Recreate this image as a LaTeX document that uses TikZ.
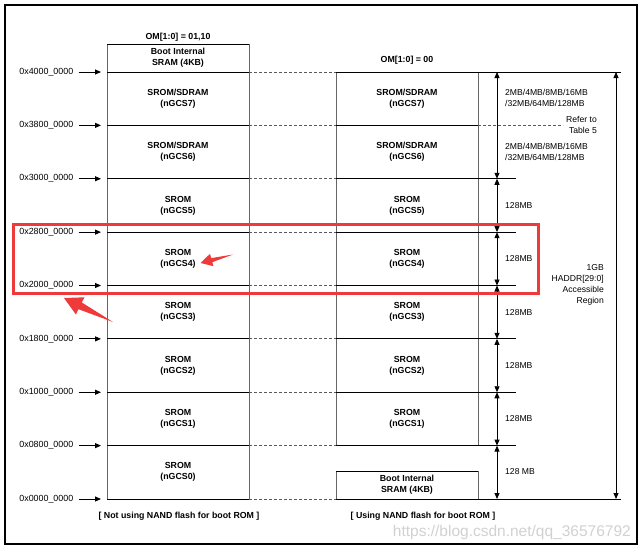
\documentclass[tikz,border=0pt]{standalone}
\usepackage{fontspec}
\setmainfont{Liberation Sans}
\usetikzlibrary{arrows.meta}
\definecolor{hlred}{RGB}{238,58,58}
\begin{document}
\begin{tikzpicture}[x=1pt,y=-1pt,
  lbl/.style={font=\fontsize{8.8}{11}\selectfont\bfseries, align=center, inner sep=0pt},
  addr/.style={font=\fontsize{8.9}{10}\selectfont, anchor=east, inner sep=0pt},
  sz/.style={font=\fontsize{8.6}{11}\selectfont, align=left, anchor=west, inner sep=0pt},
  szr/.style={font=\fontsize{8.6}{11}\selectfont, align=right, anchor=east, inner sep=0pt},
  hline/.style={line width=1pt, black},
  vline/.style={line width=1pt, black!60},
  dline/.style={line width=0.9pt, black!65, dash pattern=on 3pt off 2pt},
  tipline/.style={-{Triangle[length=6pt,width=5pt]}, line width=0.9pt},
  dtip/.style={{Triangle[length=6pt,width=5pt]}-{Triangle[length=6pt,width=5pt]}, line width=0.9pt},
  redarrow/.style={fill=hlred, draw=none},
]
\useasboundingbox (0,0) rectangle (642,549);
\draw[line width=1.3pt] (5,5) rectangle (637,544);

% boundary coordinates
\foreach \k in {0,...,8}{
  \pgfmathsetmacro\yy{72+53.375*\k}
  \coordinate (L\k) at (107,\yy);
  \coordinate (LR\k) at (249,\yy);
  \coordinate (R\k) at (336,\yy);
  \coordinate (RR\k) at (478,\yy);
  \coordinate (A\k) at (497,\yy);
  \coordinate (E\k) at (516,\yy);
}
\coordinate (LT) at (107,44);
\coordinate (LTR) at (249,44);
\coordinate (BT) at (336,471);
\coordinate (BTR) at (478,471);
\coordinate (G0) at (616,72);
\coordinate (G1) at (616,499);
\coordinate (GE0) at (621,72);
\coordinate (GE1) at (621,499);
\coordinate (D1) at (563,125.375);

% left column box
\draw[vline] (LT) -- (L8);
\draw[vline] (LTR) -- (LR8);
\draw[hline] (LT) -- (LTR);
\foreach \k in {0,...,8}{
  \draw[hline] (L\k) -- (LR\k);
  \draw[dline] (LR\k) -- (R\k);
}

% right column
\draw[vline] (R0) -- (R7);
\draw[vline] (RR0) -- (RR7);
\draw[vline] (BT) -- (R8);
\draw[vline] (BTR) -- (RR8);
\draw[hline] (BT) -- (BTR);
\draw[hline] (R0) -- (GE0);
\draw[hline] (R1) -- (RR1);
\draw[dline] (RR1) -- (D1);
\foreach \k in {2,...,7}{
  \draw[hline] (R\k) -- (E\k);
}
\draw[hline] (R8) -- (GE1);

% size arrows
\draw[dtip] (A0) -- (A2);
\foreach \k [evaluate=\k as \j using int(\k+1)] in {2,...,7}{
  \draw[dtip] (A\k) -- (A\j);
}
\draw[dtip] (G0) -- (G1);

% address labels
\foreach \k/\a in {0/4000,1/3800,2/3000,3/2800,4/2000,5/1800,6/1000,7/0800,8/0000}{
  \pgfmathsetmacro\yy{72+53.375*\k}
  \node[addr] (ad\k) at (73.5,\yy) {0x\a\_0000};
  \draw[tipline] ([xshift=5pt]ad\k.east) -- ([xshift=-6pt]L\k);
}

% block labels
\node[lbl] (lboot) at (178,58) {Boot Internal\\SRAM (4KB)};
\node[lbl] (rboot) at (407,485) {Boot Internal\\SRAM (4KB)};
\foreach \k/\n in {0/7,1/6,2/5,3/4,4/3,5/2,6/1,7/0}{
  \pgfmathsetmacro\yc{72+53.375*\k+26.69}
  \node[lbl] (lb\n) at (178,\yc) {\ifnum\k<2 SROM/SDRAM\else SROM\fi\\(nGCS\n)};
  \ifnum\k<7
    \node[lbl] (rb\n) at (407,\yc) {\ifnum\k<2 SROM/SDRAM\else SROM\fi\\(nGCS\n)};
  \fi
}

% size labels
\node[sz] (s7) at (505,98) {2MB/4MB/8MB/16MB\\/32MB/64MB/128MB};
\node[sz] (s6) at (505,151.5) {2MB/4MB/8MB/16MB\\/32MB/64MB/128MB};
\node[szr] (ref) at (597,125) {Refer to\\Table 5};
\foreach \k in {2,...,6}{
  \pgfmathsetmacro\yc{72+53.375*\k+26.69}
  \node[sz] (s\k) at (505,\yc) {128MB};
}
\node[sz] (s0) at (505,471.5) {128 MB};
\node[szr] (gb) at (604,284.5) {1GB\\HADDR[29:0]\\Accessible\\Region};

% titles and captions
\node[lbl] (t1) at (178,37.5) {OM[1:0] = 01,10};
\node[lbl] (t2) at (407,60) {OM[1:0] = 00};
\node[lbl] (c1) at (179,516.5) {[ Not using NAND flash for boot ROM ]};
\node[lbl] (c2) at (423,516.5) {[ Using NAND flash for boot ROM ]};
\node[anchor=east, inner sep=0pt, text=black!18, font=\fontsize{15.5}{16}\selectfont] (wm) at (631,532) {https://blog.csdn.net/qq\_36576792};

% red highlight
\draw[hlred, line width=3pt] (13,224.5) rectangle (538,293);
\fill[redarrow] (64,298) -- (84.6,297.3) -- (81.7,302.4) -- (113,322) -- (78.4,309.2) -- (75.9,314.5) -- cycle;
\fill[redarrow] (200.5,263) -- (210,253.8) -- (211.1,258.1) -- (233,254.5) -- (212.3,262.2) -- (213.5,266.2) -- cycle;
\end{tikzpicture}
\end{document}
